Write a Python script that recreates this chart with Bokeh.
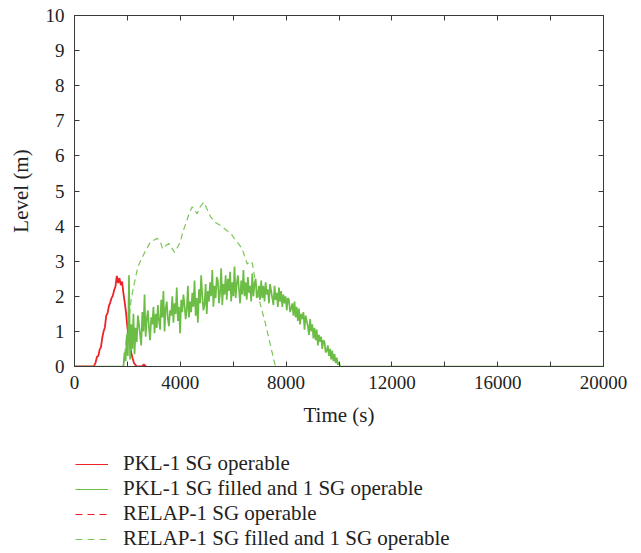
from bokeh.plotting import figure
from bokeh.layouts import column
from bokeh.models import (LinearAxis, FixedTicker, Legend, LegendItem, Range1d,
                          CustomJSTickFormatter)
from bokeh.embed import file_html
from bokeh.resources import INLINE

FONT = "Liberation Serif"

# ---------------- data ----------------
x_ticks = [0, 4000, 8000, 12000, 16000, 20000]
x_minor = [2000, 6000, 10000, 14000, 18000]
y_ticks = [0, 1, 2, 3, 4, 5, 6, 7, 8, 9, 10]

# PKL - 1 SG operable (red, solid)
pkl1_t = [0, 730, 800, 850, 900, 950, 1000, 1050, 1100, 1150, 1200, 1250, 1300,
          1350, 1400, 1450, 1500, 1550, 1600, 1650, 1700, 1750, 1800, 1850, 1900,
          1950, 2000, 2050, 2100, 2150, 2200, 2250, 2300, 2350, 2550, 2620, 2700]
pkl1_v = [0, 0, 0.12, 0.28, 0.30, 0.48, 0.55, 0.82, 1.00, 1.12, 1.45, 1.52, 1.72,
          1.82, 1.95, 2.02, 2.18, 2.28, 2.58, 2.38, 2.52, 2.32, 2.42, 2.08, 1.82,
          1.52, 1.12, 0.82, 0.58, 0.38, 0.22, 0.10, 0.05, 0, 0, 0.06, 0]

# PKL - 1 SG filled and 1 SG operable (green, solid), sampled every 42 s from 1850 s
pkl2_start = 1850
pkl2_step = 42
pkl2_v = [0.00, 0.40, 0.15, 0.90, 0.30, 2.60, 0.20, 1.20, 0.50, 1.50, 0.35, 1.10,
          0.70, 1.45, 1.20, 0.90, 0.60, 1.55, 1.00, 2.05, 0.85, 1.35, 1.60, 1.10,
          0.75, 1.40, 1.20, 1.70, 0.95,
          1.50, 1.10, 1.75, 1.30, 1.05, 1.90, 1.40, 2.15, 1.00, 1.65, 1.85, 1.35,
          1.15, 1.60, 1.45, 2.00,
          1.25, 1.80, 1.50, 2.25, 1.30, 1.70, 0.95, 1.90, 1.55, 2.05, 1.75, 1.35,
          1.60, 2.30, 1.40, 1.85,
          1.55, 2.10, 1.70, 2.45, 1.45, 1.95, 1.25, 2.20, 1.80, 2.60, 2.00, 1.60,
          1.75, 2.35, 1.50, 2.15,
          1.85, 2.40, 2.00, 2.75, 1.70, 2.30, 1.95, 2.55, 2.45, 1.80, 2.10, 2.80,
          1.75, 2.35, 2.05, 2.60,
          1.90, 2.50, 2.15, 2.70, 1.85, 2.40, 2.00, 2.85, 1.95, 2.35, 2.60, 2.20,
          1.80, 2.45, 2.05, 2.75,
          2.00, 2.40, 1.90, 2.55, 2.10, 2.30, 1.85, 2.65, 2.00, 2.35, 2.50, 1.95,
          2.10, 2.30, 1.90, 2.45,
          1.95, 2.30, 1.85, 2.40, 2.05, 2.20, 1.80, 2.35, 2.15, 1.95, 1.75, 2.30,
          1.90, 2.10, 1.70, 2.25,
          1.85, 2.15, 1.70, 2.05, 1.80, 2.00, 1.60, 1.95, 1.90, 1.55, 1.65, 1.80,
          1.45, 1.85, 1.40, 1.70,
          1.30, 1.65, 1.20, 1.50, 1.35, 1.55, 1.05, 1.45, 1.30, 1.15, 0.90, 1.35,
          1.00, 1.20, 0.80, 1.10,
          0.75, 1.05, 0.60, 0.90, 0.70, 0.85, 0.50, 0.75, 0.70, 0.40, 0.45, 0.60,
          0.30, 0.50, 0.20, 0.45,
          0.15, 0.35, 0.10, 0.25, 0.05, 0.12, 0.00]
pkl2_t = [0] + [pkl2_start + pkl2_step * i for i in range(len(pkl2_v))] + [20000]
pkl2_v = [0] + pkl2_v + [0]

# RELAP - 1 SG operable (red, dashed)
relap1_t = [0, 20000]
relap1_v = [0, 0]

# RELAP - 1 SG filled and 1 SG operable (green, dashed)
relap2_t = [0, 1800, 1850, 1930, 2050, 2150, 2240, 2400, 2620, 2870, 3125, 3250,
            3330, 3450, 3570, 3700, 3780, 3900, 4000, 4100, 4200, 4330, 4450, 4550,
            4635, 4750, 4890, 5000, 5140, 5330, 5550, 5770, 5950, 6085, 6200, 6340,
            6450, 6530, 6620, 6720, 6800, 6905, 7050, 7220, 7380, 7535, 7600, 20000]
relap2_v = [0, 0, 0.05, 0.55, 1.30, 1.95, 2.30, 2.85, 3.20, 3.55, 3.65, 3.55,
            3.35, 3.45, 3.50, 3.35, 3.25, 3.40, 3.55, 3.85, 4.05, 4.35, 4.55, 4.45,
            4.35, 4.55, 4.68, 4.50, 4.27, 4.10, 4.00, 3.87, 3.75, 3.60, 3.50, 3.35,
            3.10, 2.92, 3.00, 2.95, 2.60, 2.17, 1.70, 1.22, 0.70, 0.19, 0, 0]

labels = ["PKL-1 SG operable",
          "PKL-1 SG filled and 1 SG operable",
          "RELAP-1 SG operable",
          "RELAP-1 SG filled and 1 SG operable"]

RED = "#ec2227"
GREEN = "#6cbd45"
GREEN_D = "#7cc55a"
AX = "#3a3a3a"
TXT = "#222222"

W = 630
p = figure(width=W, height=440, output_backend="svg", toolbar_location=None,
           x_range=Range1d(0, 20000), y_range=Range1d(0, 10),
           min_border_left=74, min_border_right=W - 74 - 529, min_border_top=15,
           min_border_bottom=74, background_fill_color="white",
           border_fill_color="white")
p.xgrid.visible = False
p.ygrid.visible = False
p.outline_line_color = AX

r_rd = p.line(relap2_t, relap2_v, color=GREEN_D, line_width=1.2, line_dash="6 4")
r_rr = p.line(relap1_t, relap1_v, color=RED, line_width=1.2, line_dash="6 5")
r_pr = p.line(pkl1_t, pkl1_v, color=RED, line_width=1.8)
r_pg = p.line(pkl2_t, pkl2_v, color=GREEN, line_width=1.7)


def style(ax, labels_on=True):
    ax.axis_line_color = AX
    ax.major_tick_line_color = AX
    ax.minor_tick_line_color = AX
    ax.major_tick_in = 5
    ax.major_tick_out = 0
    ax.minor_tick_in = 5
    ax.minor_tick_out = 0
    ax.major_label_text_font = FONT
    ax.major_label_text_font_size = "19px"
    ax.major_label_text_color = TXT
    ax.axis_label_text_font = FONT
    ax.axis_label_text_font_size = "21px"
    ax.axis_label_text_font_style = "normal"
    ax.axis_label_text_color = TXT
    if not labels_on:
        ax.formatter = CustomJSTickFormatter(code="return ''")
        ax.major_label_standoff = 0


xa = p.xaxis[0]
xa.ticker = FixedTicker(ticks=x_ticks, minor_ticks=x_minor)
xa.axis_label = "Time (s)"
style(xa)
xa.major_label_standoff = 9
xa.axis_label_standoff = 11

ya = p.yaxis[0]
ya.ticker = FixedTicker(ticks=y_ticks, minor_ticks=[])
ya.axis_label = "Level (m)"
style(ya)
ya.major_label_standoff = 10
ya.axis_label_standoff = 10

top = LinearAxis(ticker=FixedTicker(ticks=x_ticks, minor_ticks=x_minor))
style(top, labels_on=False)
p.add_layout(top, "above")
right = LinearAxis(ticker=FixedTicker(ticks=y_ticks, minor_ticks=[]))
style(right, labels_on=False)
p.add_layout(right, "right")

# ---------------- legend (separate panel below the chart) ----------------
# The same series are attached here (off-range, so only their legend swatches show).
q = figure(width=W, height=113, output_backend="svg", toolbar_location=None,
           x_axis_type=None, y_axis_type=None,
           x_range=Range1d(-2, -1), y_range=Range1d(-2, -1),
           min_border_left=74, min_border_right=0, min_border_top=10,
           min_border_bottom=0, background_fill_color="white",
           border_fill_color="white")
q.xgrid.visible = False
q.ygrid.visible = False
q.outline_line_color = None
g1 = q.line(pkl1_t, pkl1_v, color=RED, line_width=1.1)
g2 = q.line(pkl2_t, pkl2_v, color=GREEN, line_width=1.1)
g3 = q.line(relap1_t, relap1_v, color=RED, line_width=1.1, line_dash="7 5")
g4 = q.line(relap2_t, relap2_v, color=GREEN_D, line_width=1.1, line_dash="7 5")

legend = Legend(items=[LegendItem(label=labels[0], renderers=[g1]),
                       LegendItem(label=labels[1], renderers=[g2]),
                       LegendItem(label=labels[2], renderers=[g3]),
                       LegendItem(label=labels[3], renderers=[g4])],
                location="top_left")
legend.padding = 0
legend.margin = 1
legend.spacing = 0
legend.glyph_width = 33
legend.glyph_height = 20
legend.label_height = 20
legend.label_standoff = 15
legend.label_text_font = FONT
legend.label_text_font_size = "21px"
legend.label_text_color = TXT
legend.background_fill_alpha = 0
legend.border_line_alpha = 0
q.add_layout(legend)

layout = column(p, q, spacing=0)
open("out.html", "w").write(file_html(layout, INLINE))
